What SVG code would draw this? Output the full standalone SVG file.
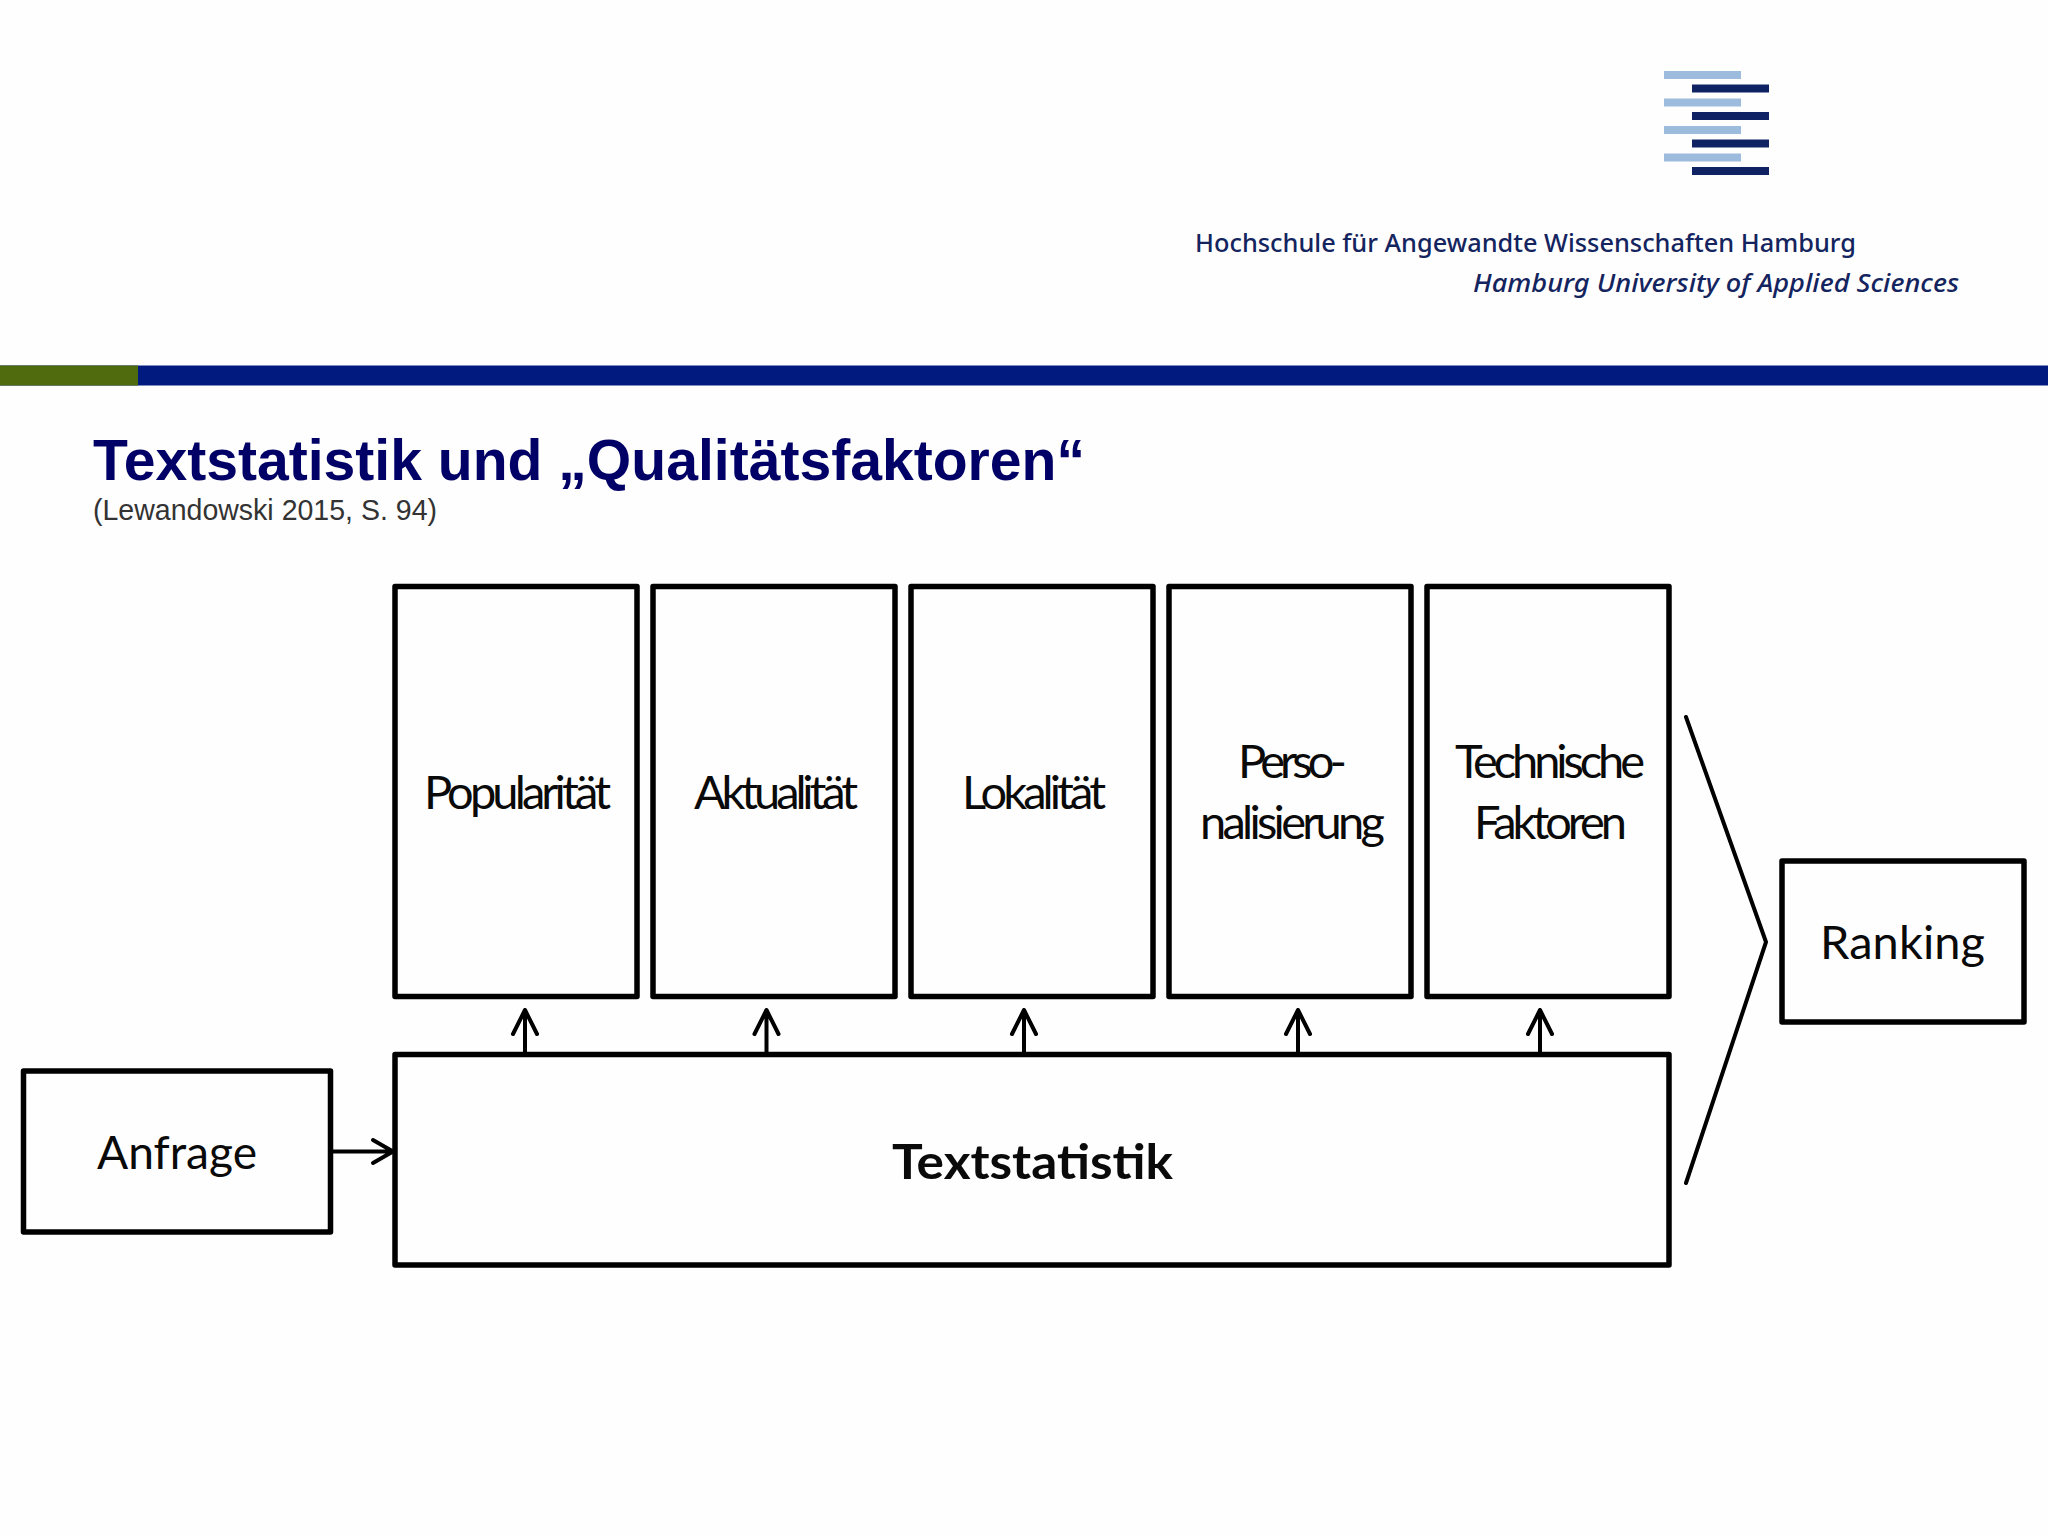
<svg xmlns="http://www.w3.org/2000/svg" width="2048" height="1536" viewBox="0 0 2048 1536">
<style>
.box{fill:#fefefe;stroke:#000;stroke-width:5.5;stroke-linejoin:round}
.lbl{font-family:"Lato","Open Sans",sans-serif;font-size:47px;fill:#0a0a0a}
.hd{font-family:"Noto Sans","Open Sans",sans-serif;font-size:26px;font-weight:500;fill:#14245f}
.lt{fill:#9dbbdc}.dk{fill:#0f2364}
.ln{fill:none;stroke:#000;stroke-linecap:round;stroke-linejoin:round}
</style>
<rect width="2048" height="1536" fill="#fefefe"/>
<g id="logo">
<rect class="lt" x="1664" y="71" width="77" height="8"/><rect class="dk" x="1692" y="84.500" width="77" height="8"/>
<rect class="lt" x="1664" y="98.500" width="77" height="8"/><rect class="dk" x="1692" y="112" width="77" height="8"/>
<rect class="lt" x="1664" y="126" width="77" height="8"/><rect class="dk" x="1692" y="139.500" width="77" height="8"/>
<rect class="lt" x="1664" y="153.500" width="77" height="8"/><rect class="dk" x="1692" y="167" width="77" height="8"/>
</g>
<g id="header">
<text class="hd" x="1195" y="252" textLength="661" lengthAdjust="spacingAndGlyphs">Hochschule für Angewandte Wissenschaften Hamburg</text>
<text class="hd" x="1473" y="292" font-style="italic" textLength="486" lengthAdjust="spacingAndGlyphs">Hamburg University of Applied Sciences</text>
<rect x="0" y="365.500" width="2048" height="20" fill="#001a80"/>
<rect x="0" y="365.500" width="138" height="20" fill="#4f6b0e"/>
</g>
<g id="title">
<text x="93" y="480" font-family="'Liberation Sans',Arial,sans-serif" font-weight="700" font-size="57px" fill="#000066" textLength="992" lengthAdjust="spacingAndGlyphs">Textstatistik und „Qualitätsfaktoren“</text>
<text x="93" y="520" font-family="'Liberation Sans',Arial,sans-serif" font-size="29px" fill="#333" textLength="344" lengthAdjust="spacingAndGlyphs">(Lewandowski 2015, S. 94)</text>
</g>
<g id="connectors">
<path class="ln" stroke-width="4" d="M525 1052V1010M513 1034L525 1010L537 1034"/>
<path class="ln" stroke-width="4" d="M766.500 1052V1010M754.500 1034L766.500 1010L778.500 1034"/>
<path class="ln" stroke-width="4" d="M1024 1052V1010M1012 1034L1024 1010L1036 1034"/>
<path class="ln" stroke-width="4" d="M1298 1052V1010M1286 1034L1298 1010L1310 1034"/>
<path class="ln" stroke-width="4" d="M1540 1052V1010M1528 1034L1540 1010L1552 1034"/>
<path class="ln" stroke-width="4" d="M333 1151.500H392M373 1140L393 1151.500L373 1163"/>
<path class="ln" stroke-width="4" stroke-linecap="butt" d="M1686 717L1766 942L1686 1183"/>
</g>
<g id="node-popularitaet"><rect class="box" x="395" y="586.500" width="242" height="410"/><text class="lbl" x="424" y="809" textLength="187" lengthAdjust="spacing">Popularität</text></g>
<g id="node-aktualitaet"><rect class="box" x="653" y="586.500" width="242" height="410"/><text class="lbl" x="694" y="809" textLength="164" lengthAdjust="spacing">Aktualität</text></g>
<g id="node-lokalitaet"><rect class="box" x="911" y="586.500" width="242" height="410"/><text class="lbl" x="962" y="809" textLength="144" lengthAdjust="spacing">Lokalität</text></g>
<g id="node-personalisierung"><rect class="box" x="1169" y="586.500" width="242" height="410"/><text class="lbl" x="1238" y="778" textLength="109" lengthAdjust="spacing">Perso-</text><text class="lbl" x="1200" y="839" textLength="185" lengthAdjust="spacing">nalisierung</text></g>
<g id="node-technische"><rect class="box" x="1427" y="586.500" width="242" height="410"/><text class="lbl" x="1455" y="778" textLength="190" lengthAdjust="spacing">Technische</text><text class="lbl" x="1474" y="839" textLength="153" lengthAdjust="spacing">Faktoren</text></g>
<g id="node-textstatistik"><rect class="box" x="395" y="1054.500" width="1274" height="210.500"/><text class="lbl" x="892" y="1179" font-weight="700" textLength="281" lengthAdjust="spacingAndGlyphs">Textstatistik</text></g>
<g id="node-anfrage"><rect class="box" x="23.500" y="1071" width="307" height="161"/><text class="lbl" x="97" y="1169" textLength="160" lengthAdjust="spacingAndGlyphs">Anfrage</text></g>
<g id="node-ranking"><rect class="box" x="1782" y="861" width="242" height="161"/><text class="lbl" x="1820" y="959" textLength="165" lengthAdjust="spacing" font-size="46">Ranking</text></g>
</svg>
